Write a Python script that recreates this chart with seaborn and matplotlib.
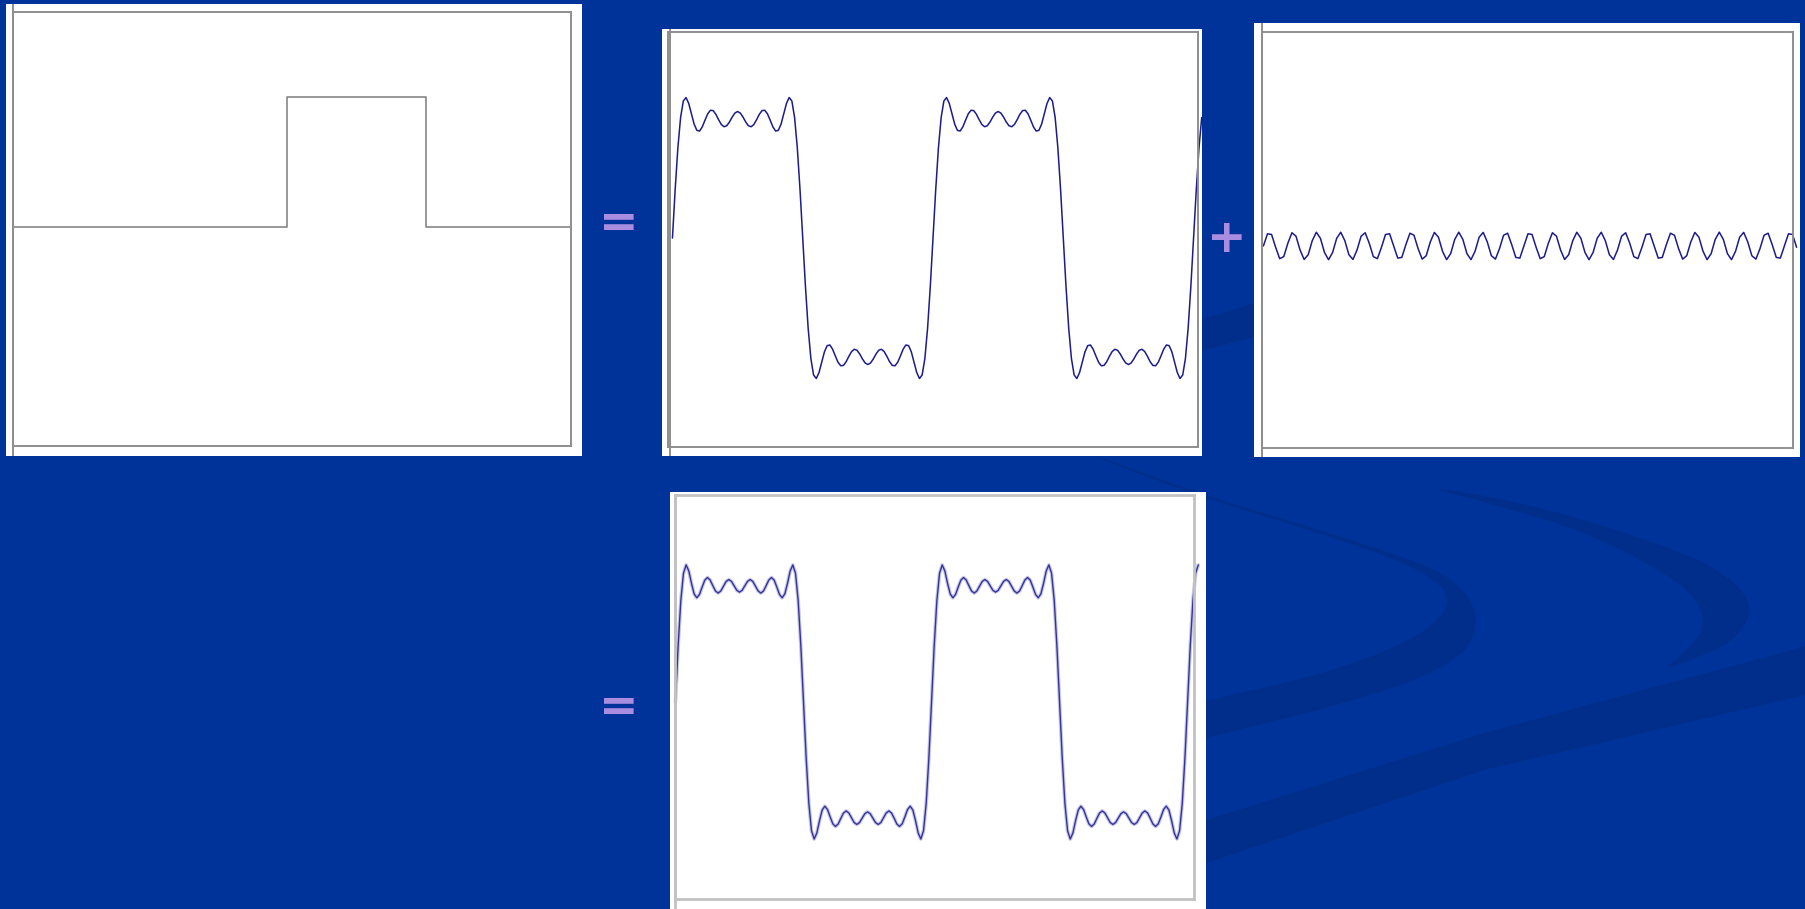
import numpy as np
import pandas as pd
import matplotlib
matplotlib.use("Agg")
import matplotlib.pyplot as plt
from matplotlib.path import Path
from matplotlib.patches import PathPatch, Polygon, Rectangle
import seaborn as sns

# Fourier components of the square wave (odd harmonics and their amplitudes)
harmonics = [1, 3, 5, 7, 9, 11]
amplitudes = [1.273, 0.424, 0.255, 0.182, 0.141, 0.116]

# Single rectangular pulse: step edges and the level after each edge
pulse_edges = [0.0, 1.96, 2.96, 4.0]
pulse_levels = [0.0, 1.0, 0.0, 0.0]

W, H = 1805, 909
BG = "#003399"
SWOOSH = "#002e8a"
WAVE = "#1c1c8a"
FRAME = "#8e8e8e"
SIGN = "#aa8ce1"
SUM_SAMPLES = 96      # samples per fundamental period for the partial sums
TONE_SAMPLES = 64     # samples per fundamental period for the single harmonic

sns.set_theme(style="white")
plt.rcParams["font.family"] = ["DejaVu Sans"]

fig = plt.figure(figsize=(W / 100, H / 100), dpi=100)
fig.patch.set_facecolor(BG)

# full-slide layer in pixel units for the backdrop, panels and signs
bg = fig.add_axes([0, 0, 1, 1], zorder=0)
bg.set_xlim(0, W)
bg.set_ylim(H, 0)
bg.axis("off")


def smooth_closed(points):
    pts = np.asarray(points, float)
    mids = (pts + np.roll(pts, -1, axis=0)) / 2
    verts = [mids[-1]]
    codes = [Path.MOVETO]
    for i in range(len(pts)):
        verts += [pts[i], mids[i]]
        codes += [Path.CURVE3, Path.CURVE3]
    return Path(verts, codes)


# decorative swooshes of the slide background
crescent_mid = [(1095, 455), (1206, 496), (1317, 529), (1401, 556), (1445, 574),
                (1470, 596), (1479, 627), (1460, 660), (1382, 694), (1206, 738),
                (1120, 760), (1120, 722), (1206, 700), (1317, 676), (1400, 646),
                (1440, 620), (1450, 598), (1435, 580), (1400, 561), (1317, 532),
                (1206, 499), (1095, 457)]
crescent_right = [(1415, 484), (1520, 502), (1609, 527), (1680, 552), (1714, 567),
                  (1745, 592), (1752, 614), (1735, 640), (1700, 657), (1660, 671),
                  (1685, 653), (1706, 627), (1697, 600), (1672, 577), (1589, 533),
                  (1500, 506)]
for shape in (crescent_mid, crescent_right):
    bg.add_patch(PathPatch(smooth_closed(shape), facecolor=SWOOSH, edgecolor="none"))
bg.add_patch(Polygon([(1100, 852), (1206, 820), (1484, 733), (1810, 645),
                      (1810, 694), (1484, 770), (1206, 863), (1100, 898)],
                     closed=True, facecolor=SWOOSH, edgecolor="none"))
bg.add_patch(Polygon([(1150, 334), (1300, 290), (1300, 325), (1150, 364)],
                     closed=True, facecolor=SWOOSH, edgecolor="none"))


def panel(white, frame, ext, frame_color=FRAME, frame_lw=1.4):
    x0, y0, x1, y1 = white
    bg.add_patch(Rectangle((x0, y0), x1 - x0, y1 - y0, facecolor="white",
                           edgecolor="none", zorder=2))
    ex, ey0, ey1 = ext
    bg.plot([ex, ex], [ey0, ey1], color=frame_color, lw=frame_lw, zorder=3,
            solid_capstyle="butt")
    fx0, fy0, fx1, fy1 = frame
    ax = fig.add_axes([fx0 / W, 1 - fy1 / H, (fx1 - fx0) / W, (fy1 - fy0) / H],
                      zorder=5)
    ax.set_facecolor("none")
    for sp in ax.spines.values():
        sp.set_visible(True)
        sp.set_color(frame_color)
        sp.set_linewidth(frame_lw)
    return ax


def finish(ax, xlim, ylim):
    ax.set_xlim(*xlim)
    ax.set_ylim(*ylim)
    ax.set_xticks([])
    ax.set_yticks([])
    ax.set_xlabel(None)
    ax.set_ylabel(None)
    for ln in ax.lines:
        ln.set_clip_on(False)


def fourier_sum(t, orders):
    y = np.zeros_like(t)
    for n, a in zip(harmonics, amplitudes):
        if n in orders:
            y += a * np.sin(2 * np.pi * n * t)
    return y


# Panel A: the rectangular pulse
axA = panel((6, 4, 582, 456), (13.4, 12, 571, 446), (13.4, 4, 456))
pulse_df = pd.DataFrame({"x": pulse_edges, "y": pulse_levels})
sns.lineplot(data=pulse_df, x="x", y="y", ax=axA, color="#868686", lw=1.2,
             drawstyle="steps-post", sort=False)
finish(axA, (0, 4), (-1.685, 1.654))

# Panel B: harmonics 1..9
axB = panel((662, 29, 1202, 456), (667.5, 32, 1198, 447), (670, 29, 456))
tB = np.arange(0, 2.032, 1 / SUM_SAMPLES)
dfB = pd.DataFrame({"t": tB, "v": fourier_sum(tB, harmonics[:5])})
sns.lineplot(data=dfB, x="t", y="v", ax=axB, color=WAVE, lw=1.1)
finish(axB, (-0.019, 2.017), (-1.756, 1.731))

# Panel C: the 11th harmonic alone
axC = panel((1254, 23, 1800, 457), (1261.6, 32, 1793, 448), (1262, 23, 457))
tC = np.arange(0, 2.062, 1 / TONE_SAMPLES)
dfC = pd.DataFrame({"t": tC, "v": fourier_sum(tC, harmonics[5:])})
sns.lineplot(data=dfC, x="t", y="v", ax=axC, color=WAVE, lw=1.1)
finish(axC, (-0.007, 2.033), (-1.70, 1.80))

# Panel D: harmonics 1..11
axD = panel((670, 492, 1206, 909), (674.7, 495, 1194, 899), (674.7, 495, 909),
            frame_color="#c2c2c2", frame_lw=2.0)
tD = np.arange(0, 2.05, 1 / SUM_SAMPLES)
dfD = pd.DataFrame({"t": tD, "v": fourier_sum(tD, harmonics)})
sns.lineplot(data=dfD, x="t", y="v", ax=axD, color="#aeaedb", lw=2.6, alpha=0.7)
sns.lineplot(data=dfD, x="t", y="v", ax=axD, color="#34349a", lw=1.0)
finish(axD, (-0.003, 2.025), (-1.698, 1.784))

# operators between the panels
sign_kw = dict(ha="center", va="center", fontsize=34, fontweight="bold",
               color=SIGN, zorder=6)
bg.text(619, 224, "=", **sign_kw)
bg.text(1227, 239, "+", **sign_kw)
bg.text(619, 708, "=", **sign_kw)

fig.savefig("out.png", dpi=100, facecolor=BG)
